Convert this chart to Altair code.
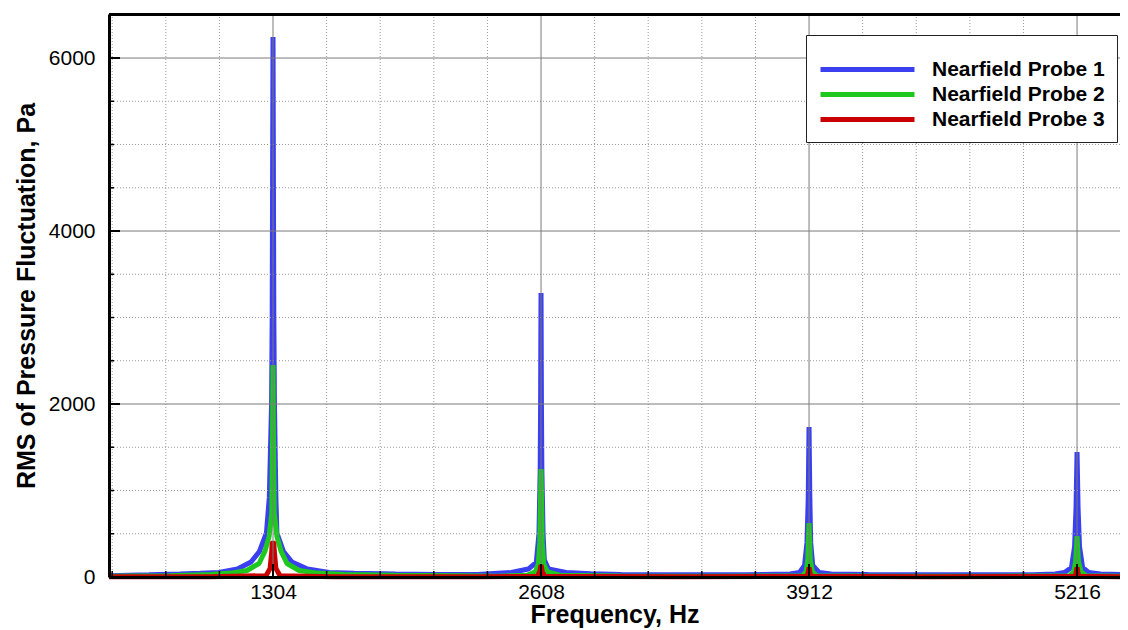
import altair as alt
import pandas as pd

# ---------------- data ----------------
probe_names = ["Nearfield Probe 1", "Nearfield Probe 2", "Nearfield Probe 3"]
probe_colors = ["#3a3ff0", "#1ec81e", "#c80000"]

p1_freq = [506, 700, 851, 950, 1041, 1131, 1197, 1238, 1272, 1286, 1297, 1300, 1304,
           1308, 1311, 1318, 1323, 1355, 1396, 1472, 1576, 1700, 1900, 2100, 2300,
           2463, 2546, 2585, 2598, 2604, 2606, 2608, 2610, 2612, 2618, 2624, 2644,
           2730, 2850, 3000, 3300, 3600, 3820, 3866, 3890, 3902, 3908, 3912, 3916,
           3920, 3930, 3961, 4020, 4200, 4500, 4800, 5000, 5110, 5155, 5189, 5204,
           5211, 5216, 5221, 5228, 5243, 5272, 5330, 5425]
p1_rms = [15, 25, 35, 42, 52, 92, 173, 295, 509, 920, 2000, 3000, 6243,
          3000, 2000, 920, 509, 295, 173, 92, 52, 42, 35, 30, 28,
          52, 92, 170, 500, 1250, 2000, 3283, 2000, 1250, 500, 200, 92,
          52, 38, 30, 27, 25, 35, 52, 133, 400, 900, 1734, 900,
          400, 133, 52, 35, 28, 25, 25, 25, 35, 52, 110, 350,
          800, 1445, 800, 350, 110, 52, 35, 28]

p2_freq = [506, 800, 1000, 1100, 1177, 1236, 1265, 1285, 1298, 1302, 1304, 1306,
           1310, 1323, 1343, 1372, 1431, 1520, 1650, 1900, 2200, 2400, 2540, 2580,
           2595, 2602, 2605, 2608, 2611, 2614, 2621, 2640, 2700, 3000, 3500, 3880,
           3898, 3906, 3909, 3912, 3915, 3918, 3928, 3950, 4300, 4800, 5180, 5200,
           5209, 5213, 5216, 5219, 5223, 5235, 5260, 5425]
p2_rms = [8, 15, 30, 45, 75, 156, 300, 470, 740, 1700, 2451, 1700,
          740, 470, 300, 156, 75, 45, 30, 20, 14, 10, 20, 60,
          150, 400, 800, 1249, 800, 400, 150, 60, 20, 12, 10, 15,
          60, 200, 400, 624, 400, 200, 60, 15, 10, 10, 15, 60,
          180, 330, 474, 330, 180, 60, 15, 10]

p3_freq = [506, 1000, 1270, 1290, 1298, 1300, 1304, 1308, 1310, 1318, 1338, 1600,
           2300, 2590, 2602, 2608, 2614, 2626, 3300, 3900, 3907, 3912, 3917, 3924,
           4500, 5204, 5211, 5216, 5221, 5228, 5425]
p3_rms = [3, 4, 15, 100, 300, 390, 405, 390, 300, 100, 15, 4,
          3, 8, 60, 139, 60, 8, 3, 8, 40, 110, 40, 8,
          3, 8, 40, 110, 40, 8, 3]

x_major = [1304, 2608, 3912, 5216]
x_minor = [521.6, 782.4, 1043.2, 1564.8, 1825.6, 2086.4, 2347.2, 2868.8, 3129.6,
           3390.4, 3651.2, 4172.8, 4433.6, 4694.4, 4955.2]
y_labels = [0, 2000, 4000, 6000]
y_major = [2000, 4000, 6000]
y_minor = [500, 1000, 1500, 2500, 3000, 3500, 4500, 5000, 5500]

x_title = "Frequency, Hz"
y_title = "RMS of Pressure Fluctuation, Pa"

# ---------------- styling ----------------
FONT = "Liberation Sans"
X_DOMAIN = [506, 5425]
Y_DOMAIN = [0, 6509]
W, H = 1011, 563

rows = []
for name, fr, vals in [(probe_names[0], p1_freq, p1_rms),
                       (probe_names[1], p2_freq, p2_rms),
                       (probe_names[2], p3_freq, p3_rms)]:
    for f, v in zip(fr, vals):
        rows.append({"probe": name, "freq": f, "rms": v})
df = pd.DataFrame(rows)

xs = alt.Scale(domain=X_DOMAIN, nice=False, zero=False)
ys = alt.Scale(domain=Y_DOMAIN, nice=False, zero=False)

x_axis = alt.Axis(values=x_major, format="d", title=x_title, grid=False,
                  ticks=False, domainColor="black", domainWidth=3,
                  labelFont=FONT, labelFontSize=21, labelColor="black",
                  labelPadding=4, labelFlush=False,
                  titleFont=FONT, titleFontSize=25, titleFontWeight="bold",
                  titleColor="black", titlePadding=0, zindex=1)
y_axis = alt.Axis(values=y_labels, format="d", title=y_title, grid=False,
                  ticks=False, domainColor="black", domainWidth=3,
                  labelFont=FONT, labelFontSize=21, labelColor="black",
                  labelPadding=14, labelFlush=False,
                  titleFont=FONT, titleFontSize=25, titleFontWeight="bold",
                  titleColor="black", titlePadding=9, zindex=1)

xminor_df = pd.DataFrame({"freq": x_minor})
xmajor_df = pd.DataFrame({"freq": x_major})
yminor_df = pd.DataFrame({"rms": y_minor})
ymajor_df = pd.DataFrame({"rms": y_major})

X = lambda: alt.X("freq:Q", scale=xs, axis=x_axis)
Y = lambda: alt.Y("rms:Q", scale=ys, axis=y_axis)

minor_style = dict(color="#9a9a9a", strokeWidth=1, strokeDash=[1, 2])
major_style = dict(color="#7a7a7a", strokeWidth=1)

gx_minor = alt.Chart(xminor_df).mark_rule(**minor_style).encode(x=X())
gy_minor = alt.Chart(yminor_df).mark_rule(**minor_style).encode(y=Y())
gx_major = alt.Chart(xmajor_df).mark_rule(**major_style).encode(x=X())
gy_major = alt.Chart(ymajor_df).mark_rule(**major_style).encode(y=Y())

lines = alt.Chart(df).mark_line(strokeWidth=5, strokeJoin="bevel", strokeCap="butt").encode(
    x=X(),
    y=Y(),
    color=alt.Color("probe:N", scale=alt.Scale(domain=probe_names, range=probe_colors),
                    legend=alt.Legend(title=" ", titleFontSize=11, titlePadding=0,
                                      orient="none", legendX=697, legendY=21,
                                      symbolType="M-1,0H9.444", symbolSize=324,
                                      symbolStrokeWidth=5, labelFont=FONT,
                                      labelFontSize=21, labelFontWeight="bold",
                                      labelColor="black", labelOffset=91,
                                      labelLimit=400, rowPadding=3, padding=12,
                                      strokeColor="#222222", fillColor="white")),
    order=alt.Order("freq:Q"),
)

tick_x_major = alt.Chart(xmajor_df).mark_rule(color="black", strokeWidth=2).encode(
    x=X(), y=alt.value(H), y2=alt.value(H - 13))
tick_x_minor = alt.Chart(xminor_df).mark_rule(color="black", strokeWidth=1.5).encode(
    x=X(), y=alt.value(H), y2=alt.value(H - 6))
tick_y_major = alt.Chart(ymajor_df).mark_rule(color="black", strokeWidth=2).encode(
    y=Y(), x=alt.value(0), x2=alt.value(11))
tick_y_minor = alt.Chart(yminor_df).mark_rule(color="black", strokeWidth=1.5).encode(
    y=Y(), x=alt.value(0), x2=alt.value(5))
top_border = alt.Chart(xmajor_df).mark_rule(color="black", strokeWidth=3).encode(
    y=alt.value(0.5))

chart = alt.layer(
    lines, gx_minor, gy_minor, gx_major, gy_major,
    tick_x_major, tick_x_minor, tick_y_major, tick_y_minor, top_border,
).properties(
    width=W, height=H,
    autosize="none",
    padding={"left": 101, "top": 6, "right": 0, "bottom": 53},
    background="white",
).configure_view(strokeWidth=0)

chart.save("out.html", embed_options={"renderer": "svg", "actions": False})
